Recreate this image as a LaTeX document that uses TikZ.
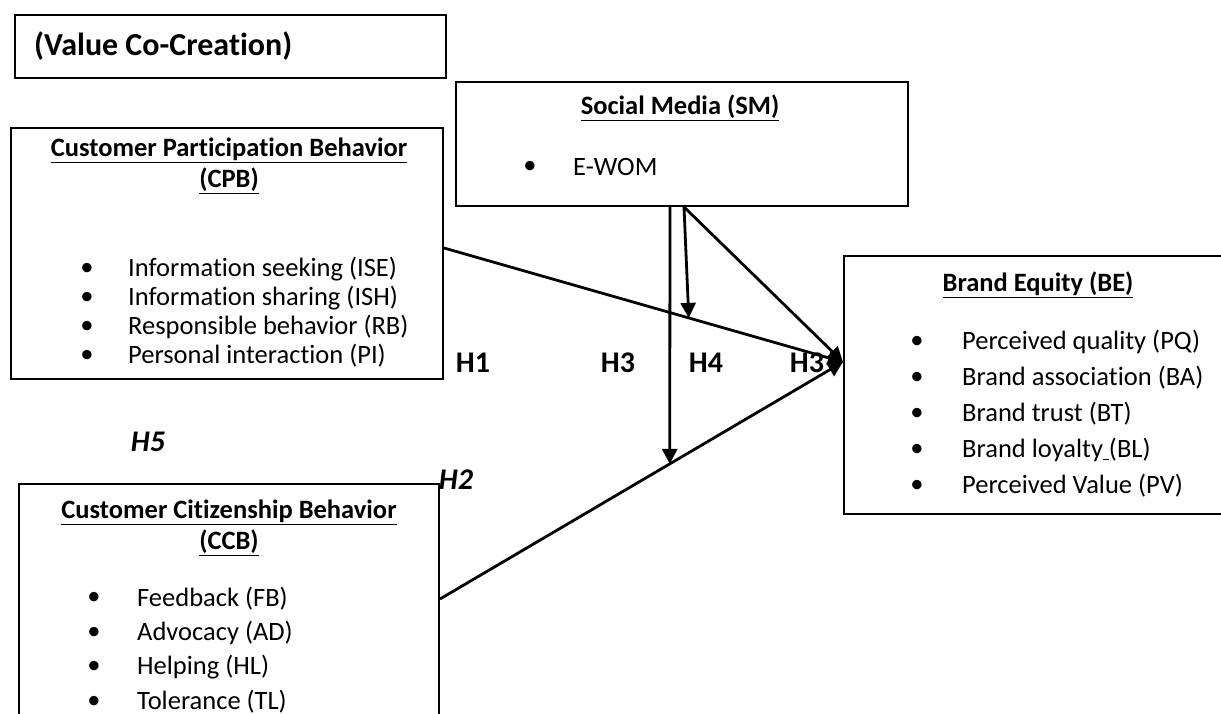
\documentclass[tikz,border=0pt]{standalone}
\usepackage{fontspec}
\setmainfont{Carlito}[Ligatures=NoCommon]
\usetikzlibrary{arrows.meta, positioning}

\begin{document}
\begin{tikzpicture}[x=1pt, y=-1pt,
    % boxes drawn from their top left corner
    panel/.style={draw, line width=2pt, rectangle, anchor=north west, inner sep=0pt},
    % titles and list entries
    heading/.style={font=\fontsize{26.5}{31}\selectfont\bfseries, align=center, inner sep=0pt},
    entry/.style={font=\fontsize{26.5}{30}\selectfont, anchor=west, inner sep=0pt},
    dot/.style={font=\fontsize{26.5}{30}\selectfont, inner sep=0pt},
    hyp/.style={font=\fontsize{30}{32}\selectfont\bfseries, inner sep=0pt},
    link/.style={line width=2.8pt, -{Triangle[length=15pt,width=15pt]}}
  ]
  \clip (0,0) rectangle (1221,714);

  % === Boxes ===
  \node[panel, minimum width=431pt, minimum height=63pt] (vcc) at (14,14) {};
  \node[panel, minimum width=452pt, minimum height=124pt] (sm) at (455,81) {};
  \node[panel, minimum width=432pt, minimum height=251pt] (cpb) at (10,127) {};
  \node[panel, minimum width=400pt, minimum height=258pt] (be) at (843,255) {};
  \node[panel, minimum width=420pt, minimum height=240pt] (ccb) at (18,483) {};

  % === Texts ===
  \node[font=\fontsize{32}{34}\selectfont\bfseries, anchor=west, inner sep=0pt] (vcct) at (34,46) {(Value Co-Creation)};

  \node[heading] (smt) at (680,108) {\underline{Social Media (SM)}};
  \node[dot] (smd) at (530,167) {\textbullet};
  \node[entry] (sme) at (573,167) {E-WOM};

  \node[heading] (cpbt) at (229,166) {\underline{Customer Participation Behavior}\\\underline{(CPB)}};
  \foreach \t [count=\i] in {Information seeking (ISE), Information sharing (ISH),
      Responsible behavior (RB), Personal interaction (PI)} {
    \node[dot] (cpbd\i) at (87,240+29*\i) {\textbullet};
    \node[entry] (cpb\i) at (128,240+29*\i) {\t};
  }

  \node[heading] (bet) at (1038,285) {\underline{Brand Equity (BE)}};
  \foreach \t [count=\i] in {Perceived quality (PQ), Brand association (BA),
      Brand trust (BT), Brand loyalty\underline{\ }(BL), Perceived Value (PV)} {
    \node[dot] (bed\i) at (917,306+36*\i) {\textbullet};
    \node[entry] (be\i) at (962,306+36*\i) {\t};
  }

  \node[heading] (ccbt) at (229,528) {\underline{Customer Citizenship Behavior}\\\underline{(CCB)}};
  \foreach \t [count=\i] in {Feedback (FB), Advocacy (AD), Helping (HL), Tolerance (TL)} {
    \node[dot] (ccbd\i) at (94,564+34.5*\i) {\textbullet};
    \node[entry] (ccb\i) at (137,564+34.5*\i) {\t};
  }

  % === Hypotheses ===
  \node[hyp] (h1) at (473,363) {H1};
  \node[hyp] (h3a) at (618,363) {H3};
  \node[hyp] (h4) at (706,363) {H4};
  \node[hyp] (h3b) at (807,363) {H3};
  \node[hyp, font=\fontsize{30}{32}\selectfont\bfseries\itshape] (h5) at (148,442) {H5};
  \node[hyp, font=\fontsize{30}{32}\selectfont\bfseries\itshape] (h2) at (456,480) {H2};

  % === Connectors ===
  \coordinate (tip) at (843,362);
  \draw[link] ([yshift=5.5pt]cpb.east) -- (tip) coordinate[pos=0.6135] (onh1);
  \draw[link] ([yshift=5pt]ccb.east) -- (tip) coordinate[pos=0.570] (onh2);
  \draw[link] ([xshift=2pt]sm.south) -- (tip);
  \draw[link] ([xshift=-12pt]sm.south) -- (onh2);
  \draw[link] ([xshift=2pt]sm.south) -- (onh1);
\end{tikzpicture}
\end{document}
